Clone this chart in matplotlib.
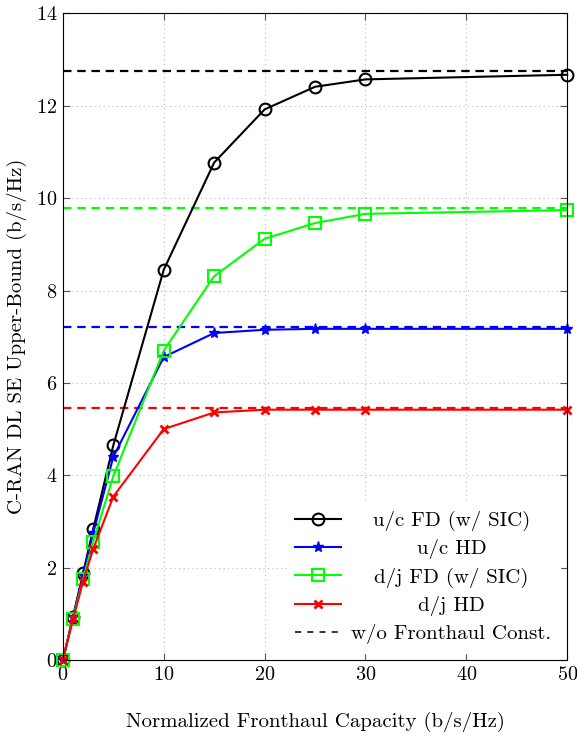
import matplotlib
matplotlib.use("Agg")
import matplotlib.pyplot as plt

plt.rcParams["font.family"] = "serif"
plt.rcParams["font.serif"] = ["cmr10", "DejaVu Serif"]
plt.rcParams["mathtext.fontset"] = "cm"
plt.rcParams["axes.formatter.use_mathtext"] = True

capacity = [0, 1, 2, 3, 5, 10, 15, 20, 25, 30, 50]
uc_fd = [0, 0.93, 1.88, 2.83, 4.65, 8.45, 10.77, 11.92, 12.41, 12.57, 12.67]
uc_hd = [0, 0.93, 1.85, 2.75, 4.40, 6.56, 7.08, 7.15, 7.17, 7.17, 7.17]
dj_fd = [0, 0.90, 1.75, 2.56, 3.98, 6.70, 8.31, 9.12, 9.46, 9.66, 9.74]
dj_hd = [0, 0.88, 1.70, 2.40, 3.54, 5.00, 5.36, 5.42, 5.42, 5.42, 5.42]

# upper bounds without fronthaul constraint
bound_uc_fd = 12.75
bound_uc_hd = 7.20
bound_dj_fd = 9.78
bound_dj_hd = 5.45

fig = plt.figure(figsize=(5.77, 7.4), dpi=100)
ax = fig.add_axes([0.109, 0.108, 0.874, 0.874])

common = dict(lw=1.5, clip_on=False)
ax.plot(capacity, uc_fd, color="black", marker="o", ms=8.5, mfc="none",
        mew=1.5, label="u/c FD (w/ SIC)", **common)
ax.plot(capacity, uc_hd, color="blue", marker="*", ms=8, mew=1.0,
        label="u/c HD", **common)
ax.plot(capacity, dj_fd, color="#00ff00", marker="s", ms=8, mfc="none",
        mew=1.5, label="d/j FD (w/ SIC)", **common)
ax.plot(capacity, dj_hd, color="red", marker="x", ms=5.5, mew=2.0,
        label="d/j HD", **common)

dash = (0, (3.8, 2.6))
for val, col in [(bound_uc_fd, "black"), (bound_uc_hd, "blue"),
                 (bound_dj_fd, "#00ff00"), (bound_dj_hd, "red")]:
    ax.axhline(val, color=col, lw=1.6, ls=dash, zorder=1)
ax.plot([], [], color="black", lw=1.1, ls=(0, (4, 4)),
        label="w/o Fronthaul Const.")

ax.set_xlim(0, 50)
ax.set_ylim(0, 14)
ax.set_xticks([0, 10, 20, 30, 40, 50])
ax.set_yticks(range(0, 15, 2))
ax.tick_params(direction="in", top=True, right=True, labelsize=14.5,
               length=5, color="#555555", pad=4)
ax.grid(True, ls=(0, (1, 3)), color="#bbbbbb", lw=0.8)
ax.set_axisbelow(True)

ax.set_xlabel("Normalized Fronthaul Capacity (b/s/Hz)", fontsize=15,
              labelpad=20)
ax.set_ylabel("C-RAN DL SE Upper-Bound (b/s/Hz)", fontsize=15, labelpad=6)

leg = ax.legend(loc="lower right", fontsize=15, frameon=True,
                fancybox=False, edgecolor="white", framealpha=1,
                handlelength=2.2, handletextpad=0.5, borderaxespad=0.35,
                labelspacing=0.4)

# centre the legend labels within their column
fig.canvas.draw()
texts = leg.get_texts()
widths = [t.get_window_extent().width for t in texts]
wmax = max(widths)
for t, w in zip(texts, widths):
    t.set_position(((wmax - w) / 2, 0))

fig.savefig("out.png", dpi=100)
